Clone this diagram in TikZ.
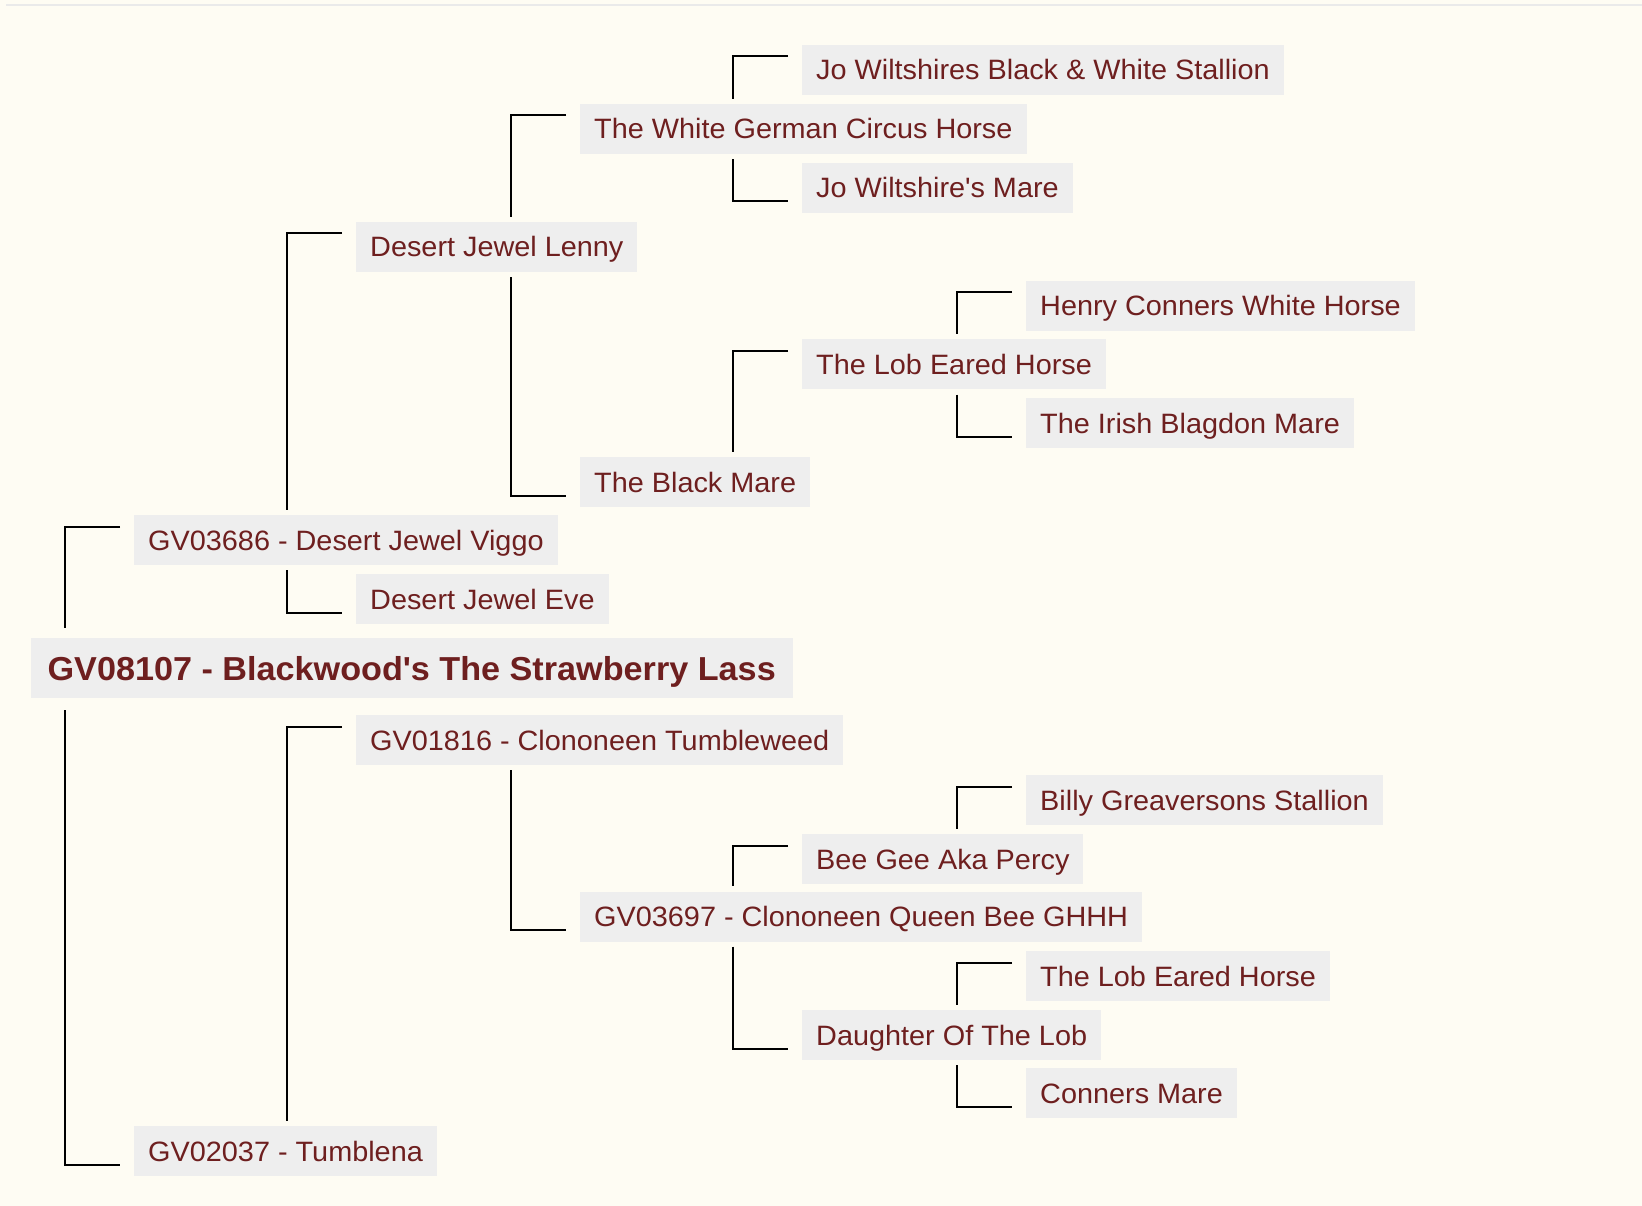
\documentclass[tikz,border=0pt]{standalone}
\usepackage{fontspec}
\setmainfont{Liberation Sans}[FakeStretch=1.03]
\usetikzlibrary{calc}
\definecolor{bg}{HTML}{FEFCF3}
\definecolor{boxgray}{HTML}{EEEEEE}
\definecolor{namered}{HTML}{6E1F1F}
\definecolor{rulegray}{HTML}{EAEAEA}
\tikzset{
  horse/.style={anchor=west, fill=boxgray, text=namered, inner xsep=14pt, inner ysep=0pt,
    minimum height=50pt, text height=22pt, text depth=2pt, font=\fontsize{28pt}{32pt}\selectfont},
  rootbox/.style={anchor=west, fill=boxgray, text=namered, inner xsep=17pt, inner ysep=0pt,
    minimum height=60pt, text height=26pt, text depth=2pt, font=\fontsize{33.2pt}{38pt}\selectfont\bfseries},
  link/.style={draw=black, line width=2pt}
}
\newcommand\sireline[3]{\draw[link] ($(#2.west)+(-14,-13.5)$) -| ($(#1.north -| #2.west)+(-69,-#3)$);}
\newcommand\damline[3]{\draw[link] ($(#1.south -| #2.west)+(-69,#3)$) |- ($(#2.west)+(-14,13.5)$);}
\begin{document}
\begin{tikzpicture}[x=1pt,y=-1pt]
\fill[bg] (0,0) rectangle (1642,1206);
\useasboundingbox (0,0) rectangle (1642,1206);
\fill[rulegray] (6,4) rectangle (1642,6.5);

\node[horse] (stallion) at (802,70) {Jo Wiltshires Black \& White Stallion};
\node[horse] (circus) at (580,129) {The White German Circus Horse};
\node[horse] (jomare) at (802,188) {Jo Wiltshire\textquotesingle s Mare};
\node[horse] (lenny) at (356,247) {Desert Jewel Lenny};
\node[horse] (henry) at (1026,306) {Henry Conners White Horse};
\node[horse] (lob) at (802,364.5) {The Lob Eared Horse};
\node[horse] (irish) at (1026,423) {The Irish Blagdon Mare};
\node[horse] (blackmare) at (580,482) {The Black Mare};
\node[horse] (viggo) at (134,540) {GV03686 - Desert Jewel Viggo};
\node[horse] (eve) at (356,599) {Desert Jewel Eve};
\node[rootbox] (root) at (30.4,668) {GV08107 - Blackwood\textquotesingle s The Strawberry Lass};
\node[horse] (tumbleweed) at (356,740) {GV01816 - Clononeen Tumbleweed};
\node[horse] (billy) at (1026,800) {Billy Greaversons Stallion};
\node[horse] (beegee) at (802,859) {Bee Gee Aka Percy};
\node[horse] (queenbee) at (580,916.5) {GV03697 - Clononeen Queen Bee GHHH};
\node[horse] (lobtwo) at (1026,976) {The Lob Eared Horse};
\node[horse] (daughter) at (802,1035) {Daughter Of The Lob};
\node[horse] (conners) at (1026,1093) {Conners Mare};
\node[horse] (tumblena) at (134,1151) {GV02037 - Tumblena};

\sireline{root}{viggo}{10}
\damline{root}{tumblena}{12}
\sireline{viggo}{lenny}{5}
\damline{viggo}{eve}{5}
\sireline{lenny}{circus}{5}
\damline{lenny}{blackmare}{5}
\sireline{circus}{stallion}{5}
\damline{circus}{jomare}{5}
\sireline{blackmare}{lob}{5}
\sireline{lob}{henry}{5}
\damline{lob}{irish}{5}
\sireline{tumblena}{tumbleweed}{5}
\damline{tumbleweed}{queenbee}{5}
\sireline{queenbee}{beegee}{5}
\damline{queenbee}{daughter}{5}
\sireline{beegee}{billy}{5}
\sireline{daughter}{lobtwo}{5}
\damline{daughter}{conners}{5}
\end{tikzpicture}
\end{document}
